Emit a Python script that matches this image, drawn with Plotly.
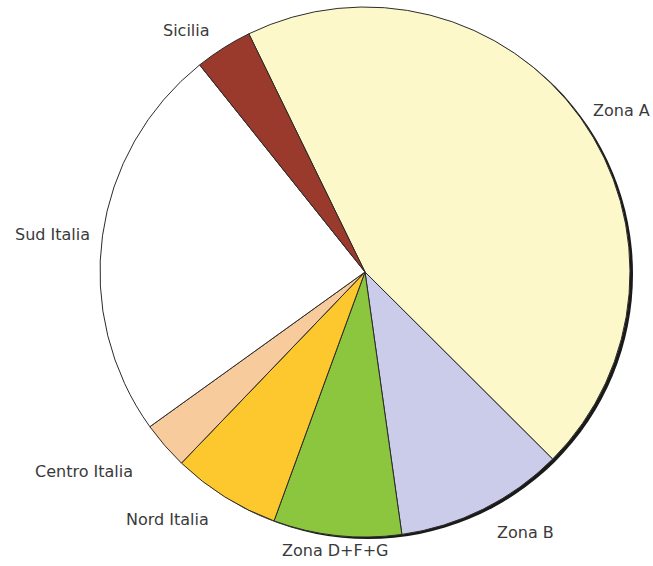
import math
import plotly.graph_objects as go

labels = ["Zona A", "Zona B", "Zona D+F+G", "Nord Italia", "Centro Italia", "Sud Italia", "Sicilia"]
values = [44.7, 10.3, 7.8, 6.6, 2.9, 24.2, 3.5]
colors = ["#FDF8CA", "#CBCBEA", "#8CC63E", "#FDC72E", "#F8CB9D", "#FFFFFF", "#9A3A2C"]

W, H = 653, 566
cx, cy, R = 365, 272, 265
start_deg = -26.0  # first slice start, clockwise from 12 o'clock
label_dist = [1.05, 1.10, 1.055, 1.10, 1.15, 1.04, 1.08]  # label distance (x radius)

dom_x = [(cx - R) / W, (cx + R) / W]
dom_y = [1 - (cy + R) / H, 1 - (cy - R) / H]
sx, sy = 3, 2  # shadow offset in px
shadow_x = [(cx - R + sx) / W, (cx + R + sx) / W]
shadow_y = [1 - (cy + R + sy) / H, 1 - (cy - R + sy) / H]

fig = go.Figure()
fig.add_trace(go.Pie(
    labels=["shadow"], values=[1], domain=dict(x=shadow_x, y=shadow_y),
    marker=dict(colors=["#1a1a1a"], line=dict(width=0)),
    textinfo="none", hoverinfo="skip", sort=False, showlegend=False,
))
fig.add_trace(go.Pie(
    labels=labels, values=values, domain=dict(x=dom_x, y=dom_y),
    marker=dict(colors=colors, line=dict(color="#2b2b2b", width=1)),
    textinfo="none", sort=False, direction="clockwise", rotation=start_deg,
    showlegend=False,
))

# outside labels placed along the slice mid-angles
total = sum(values)
acc = 0.0
annotations = []
for lab, v, k in zip(labels, values, label_dist):
    mid = start_deg + (acc + v / 2) / total * 360
    acc += v
    a = math.radians(mid)
    s, c = math.sin(a), math.cos(a)
    r = R * k
    px, py = cx + r * s, cy - r * c
    xa = "left" if s > 0.2 else ("right" if s < -0.2 else "center")
    annotations.append(dict(
        x=px / W, y=1 - py / H, xref="paper", yref="paper",
        text=lab, showarrow=False, xanchor=xa, yanchor="middle",
        font=dict(family="DejaVu Sans", size=16, color="#3a3a3a"),
    ))

fig.update_layout(
    width=W, height=H, margin=dict(l=0, r=0, t=0, b=0),
    paper_bgcolor="white", plot_bgcolor="white",
    annotations=annotations,
)
fig.write_html("out.html")
